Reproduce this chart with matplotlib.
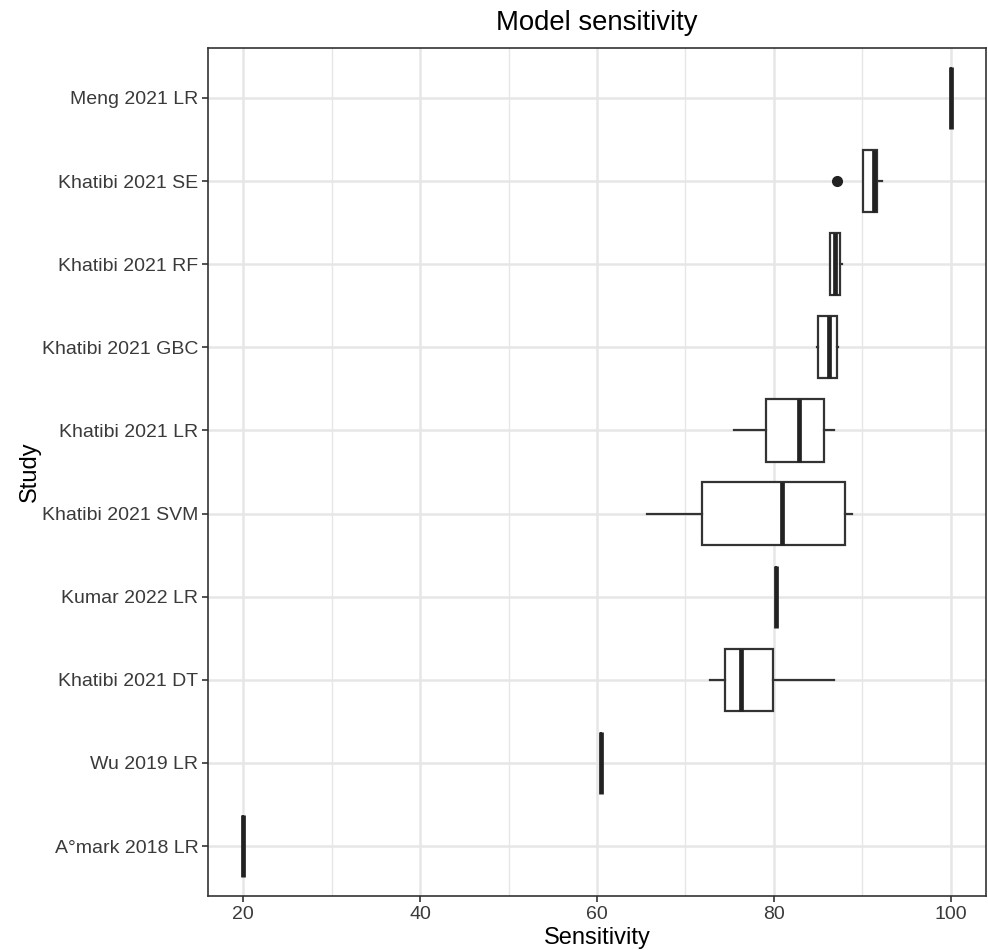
import matplotlib.pyplot as plt
from matplotlib.ticker import MultipleLocator

plt.rcParams['font.family'] = ['Liberation Sans', 'DejaVu Sans']

# studies, bottom to top
studies = ['A°mark 2018 LR', 'Wu 2019 LR', 'Khatibi 2021 DT', 'Kumar 2022 LR',
           'Khatibi 2021 SVM', 'Khatibi 2021 LR', 'Khatibi 2021 GBC',
           'Khatibi 2021 RF', 'Khatibi 2021 SE', 'Meng 2021 LR']

# box summary values (sensitivity, %)
whis_lo = [20.0, 60.5, 72.8, 80.3, 65.7, 75.5, 84.9, 86.4, 90.1, 100.0]
q1      = [20.0, 60.5, 74.5, 80.3, 71.9, 79.1, 85.0, 86.4, 90.1, 100.0]
median  = [20.0, 60.5, 76.3, 80.3, 80.9, 82.8, 86.2, 86.9, 91.3, 100.0]
q3      = [20.0, 60.5, 79.9, 80.3, 88.1, 85.7, 87.1, 87.5, 91.7, 100.0]
whis_hi = [20.0, 60.5, 86.8, 80.3, 88.8, 86.8, 87.3, 87.7, 92.2, 100.0]
outliers = [[], [], [], [], [], [], [], [], [87.2], []]

stats = []
for i, name in enumerate(studies):
    stats.append({'label': name, 'whislo': whis_lo[i], 'q1': q1[i], 'med': median[i],
                  'q3': q3[i], 'whishi': whis_hi[i], 'fliers': outliers[i]})

fig = plt.figure(figsize=(9.88, 9.5), dpi=100)
ax = fig.add_axes([208 / 988, 1 - 896 / 950, 778 / 988, 848 / 950])

dark = '#333333'
ax.bxp(stats, positions=range(1, len(studies) + 1), widths=0.75,
       orientation='horizontal', showcaps=False, patch_artist=True,
       boxprops=dict(facecolor='white', edgecolor=dark, linewidth=1.6),
       whiskerprops=dict(color=dark, linewidth=1.6),
       medianprops=dict(color='#222222', linewidth=3.4, solid_capstyle='butt'),
       flierprops=dict(marker='o', markerfacecolor='#222222', markeredgecolor='#222222',
                       markersize=7))

ax.set_xlim(16, 104)
ax.set_ylim(0.4, len(studies) + 0.6)
ax.xaxis.set_major_locator(MultipleLocator(20))
ax.xaxis.set_minor_locator(MultipleLocator(10))
ax.set_yticks(range(1, len(studies) + 1))
ax.set_yticklabels(studies)

ax.set_axisbelow(True)
ax.grid(which='major', color='#E6E6E6', linewidth=1.8)
ax.grid(which='minor', axis='x', color='#E6E6E6', linewidth=1.0)
for s in ax.spines.values():
    s.set_color(dark)
    s.set_linewidth(1.2)

ax.tick_params(which='major', length=4, width=1.2, color=dark,
               labelsize=14, labelcolor='#3A3A3A', pad=3)
ax.tick_params(which='minor', length=0)

ax.set_title('Model sensitivity', fontsize=19.8, pad=13)
ax.set_xlabel('Sensitivity', fontsize=17, labelpad=3)
ax.set_ylabel('Study', fontsize=17, labelpad=1)

fig.savefig('out.png', dpi=100)
